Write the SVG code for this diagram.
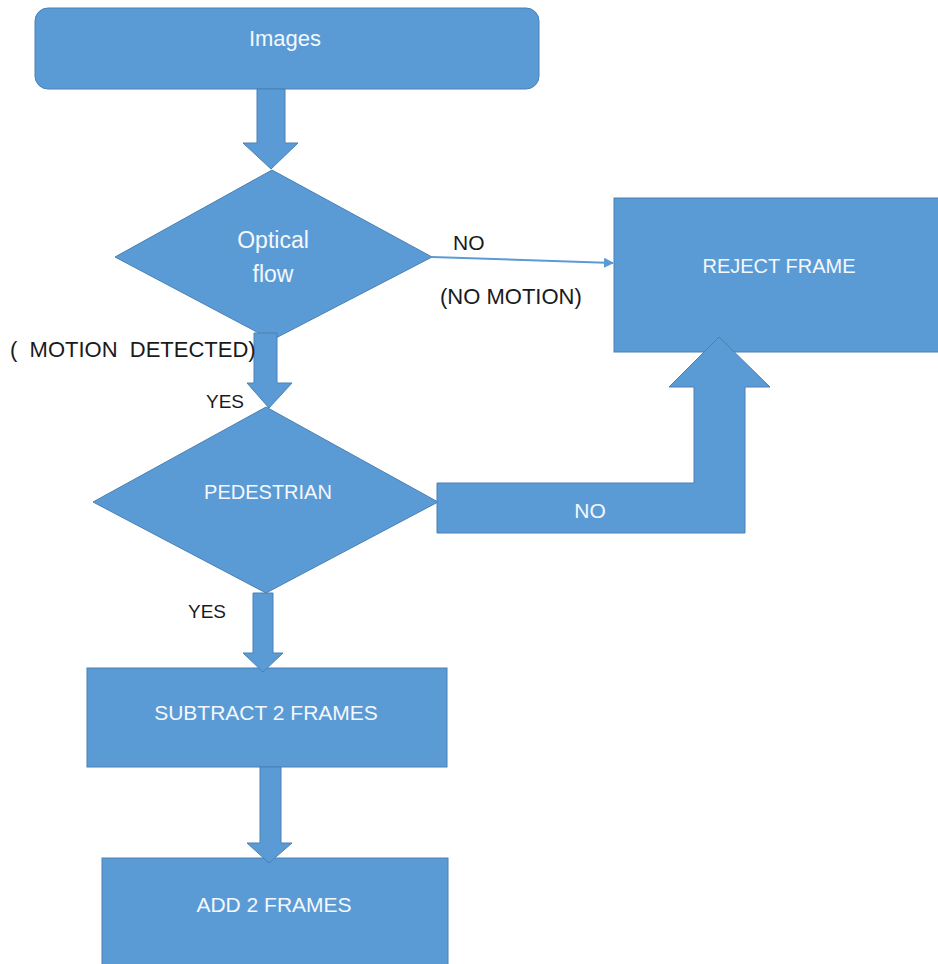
<svg xmlns="http://www.w3.org/2000/svg" width="938" height="964" viewBox="0 0 938 964">
<style>
.shape{fill:#5B9BD5;stroke:#4A80B4;stroke-width:1}
.wt{fill:#F4F8FC;font-family:"Liberation Sans",Arial,sans-serif;text-anchor:middle}
.bt{fill:#1A1A1A;font-family:"Liberation Sans",Arial,sans-serif}
.thin{stroke:#5B9BD5;stroke-width:2;fill:none}
</style>
<defs>
<marker id="ah" markerWidth="10" markerHeight="10" refX="9" refY="5" orient="auto" markerUnits="userSpaceOnUse">
<path d="M0,0 L10,5 L0,10 Z" fill="#5B9BD5"/>
</marker>
</defs>
<rect width="938" height="964" fill="#FFFFFF"/>
<g id="images">
<rect class="shape" x="35" y="8" width="504" height="81" rx="13"/>
<text class="wt" x="285" y="46" font-size="22">Images</text>
</g>
<g id="optical-flow">
<polygon class="shape" points="272,170 432,257 272,340 115,257"/>
<text class="wt" x="273" y="248" font-size="23">Optical</text>
<text class="wt" x="273" y="282" font-size="23">flow</text>
</g>
<g id="reject-frame">
<rect class="shape" x="614" y="198" width="330" height="154"/>
<text class="wt" x="779" y="273" font-size="20">REJECT FRAME</text>
</g>
<g id="pedestrian">
<polygon class="shape" points="266,407 438,502 266,593 93,502"/>
<text class="wt" x="268" y="499" font-size="20">PEDESTRIAN</text>
</g>
<g id="subtract">
<rect class="shape" x="87" y="668" width="360" height="99"/>
<text class="wt" x="266" y="720" font-size="21">SUBTRACT 2 FRAMES</text>
</g>
<g id="add">
<rect class="shape" x="102" y="858" width="346" height="112"/>
<text class="wt" x="274" y="912" font-size="21">ADD 2 FRAMES</text>
</g>
<g id="connectors">
<polygon class="shape" points="257,89 285,89 285,143 298,143 271,169 243,143 257,143"/>
<line class="thin" x1="432" y1="257" x2="613" y2="263" marker-end="url(#ah)"/>
<polygon class="shape" points="254,333 277,333 277,383 292,383 269,408 247,383 254,383"/>
<polygon class="shape" points="437,483 694,483 694,387 669,387 719,337 770,387 745,387 745,533 437,533"/>
<polygon class="shape" points="253,593 273,593 273,653 283,653 263,672 243,653 253,653"/>
<polygon class="shape" points="260,767 281,767 281,843 292,843 269,863 247,843 260,843"/>
<text class="wt" x="590" y="518" font-size="21">NO</text>
</g>
<g id="labels">
<text class="bt" x="453" y="250" font-size="21">NO</text>
<text class="bt" x="440" y="304" font-size="22">(NO MOTION)</text>
<text class="bt" x="10" y="357" font-size="22" xml:space="preserve">(  MOTION  DETECTED)</text>
<text class="bt" x="206" y="408" font-size="19">YES</text>
<text class="bt" x="188" y="618" font-size="19">YES</text>
</g>
</svg>
